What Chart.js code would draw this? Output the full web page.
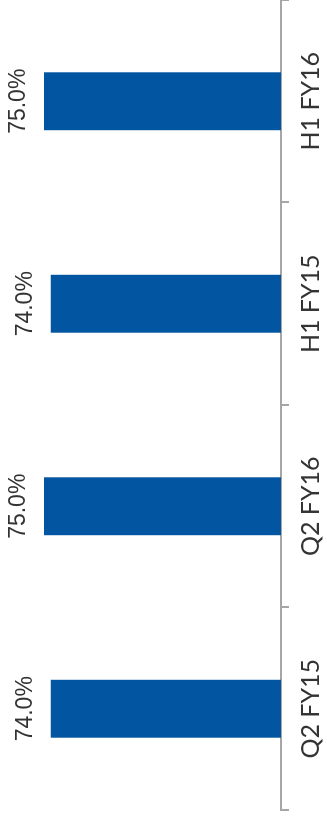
<!DOCTYPE html>
<html>
<head>
<meta charset="utf-8">
<script src="https://cdn.jsdelivr.net/npm/chart.js@4.4.1/dist/chart.umd.min.js"></script>
<style>
    html, body { margin: 0; padding: 0; background: #fff; overflow: hidden; }
    #wrap {
        position: absolute; left: 0; top: 0;
        width: 820px; height: 327px;
        transform-origin: 0 0;
        transform: rotate(-90deg) translate(-820px, 0);
    }
</style>
</head>
<body>
<div id="wrap"><canvas id="MargenChart" width="820" height="327"></canvas></div>
<script>
var periodos = ['Q2 FY15', 'Q2 FY16', 'H1 FY15', 'H1 FY16'];
var porcentajes = [74.0, 75.0, 74.0, 75.0];
var ejeMin = 40;
var ejeMax = 80;

//Etiquetas de valor encima de cada barra
var etiquetasValor = {
    id: 'etiquetasValor',
    afterDatasetsDraw: function (chart) {
        var ctx = chart.ctx;
        var meta = chart.getDatasetMeta(0);
        ctx.save();
        ctx.fillStyle = '#333333';
        ctx.font = '23px "Liberation Sans", Arial, sans-serif';
        ctx.textAlign = 'center';
        ctx.textBaseline = 'alphabetic';
        meta.data.forEach(function (bar, i) {
            ctx.fillText(porcentajes[i].toFixed(1) + '%', bar.x, bar.y - 19);
        });
        ctx.restore();
    }
};

document.addEventListener('DOMContentLoaded', function () {
    var ctx = document.getElementById('MargenChart').getContext('2d');

    var margenChart = new Chart(ctx, {
        type: 'bar',
        data: {
            labels: periodos,
            datasets: [{
                label: 'Margen',
                data: porcentajes,
                backgroundColor: '#0255A0',
                borderWidth: 0,
                barPercentage: 0.286,
                categoryPercentage: 1
            }]
        },
        options: {
            responsive: false,
            animation: false,
            devicePixelRatio: 1,
            layout: {
                padding: { left: 10, right: 0, top: 10, bottom: 0 }
            },
            scales: {
                x: {
                    afterFit: function (scale) {
                        scale.height = 46;
                    },
                    grid: {
                        offset: true,
                        drawOnChartArea: false,
                        drawTicks: true,
                        tickLength: 8,
                        color: '#A6A6A6',
                        lineWidth: 2
                    },
                    border: { display: true, color: '#A6A6A6', width: 2 },
                    ticks: {
                        color: '#333333',
                        font: { family: 'Lato', size: 25 },
                        padding: 7,
                        maxRotation: 0,
                        minRotation: 0
                    }
                },
                y: {
                    display: false,
                    min: ejeMin,
                    max: ejeMax
                }
            },
            plugins: {
                legend: { display: false },
                tooltip: { enabled: false }
            }
        },
        plugins: [etiquetasValor]
    });
});
</script>
</body>
</html>
